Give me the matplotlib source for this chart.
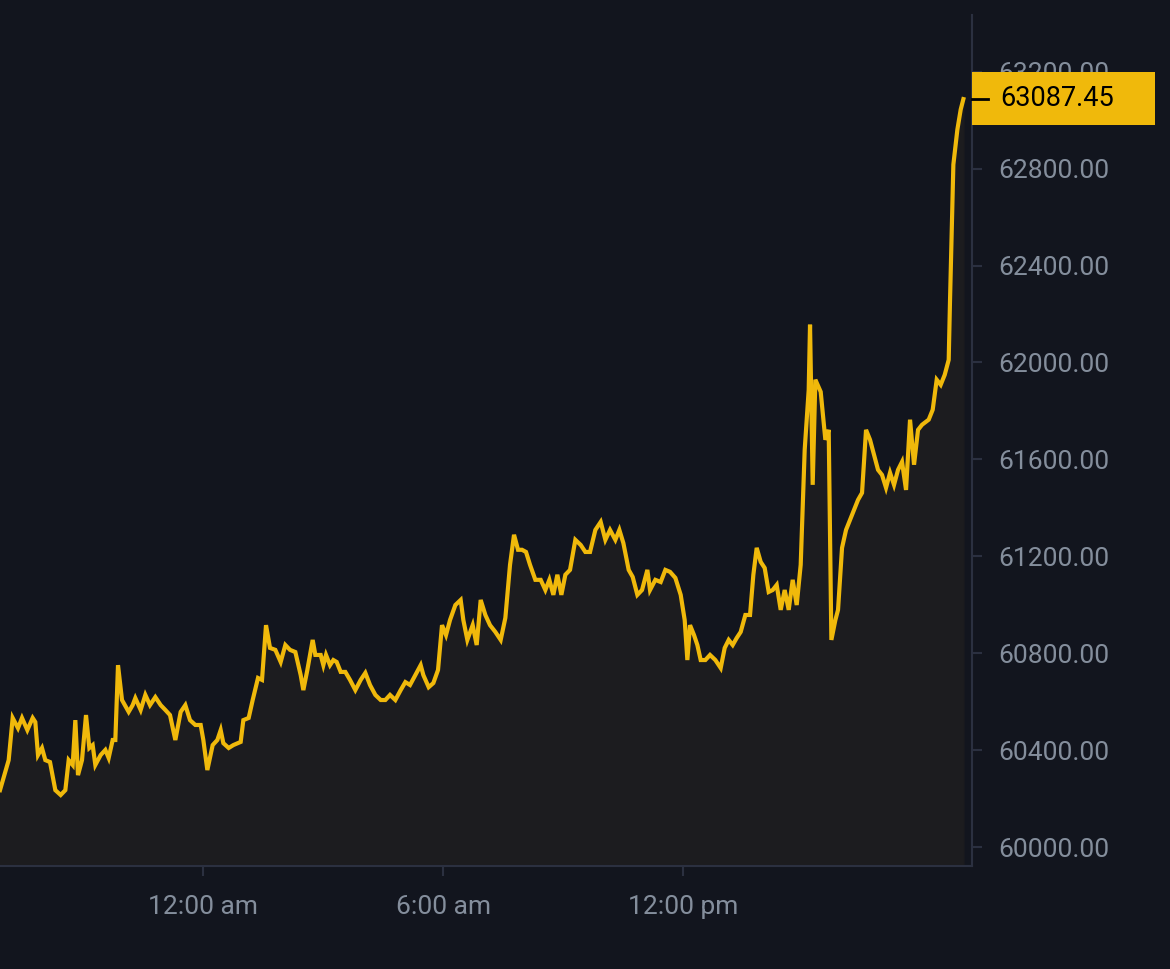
import matplotlib
matplotlib.use("Agg")
import matplotlib.pyplot as plt
from matplotlib.patches import Rectangle
import numpy as np

plt.rcParams['font.family'] = ['Roboto', 'DejaVu Sans']

# minutes relative to 12:00 am
t_min = [-305,-292,-286,-278,-272,-264,-256,-252,-248,-242,-237,-230,-222,-214,-207,-202,-196,-192,-188,-182,
 -176,-171,-166,-162,-154,-147,-142,-136,-132,-128,-122,-112,-106,-102,-94,-87,-80,-72,-64,-57,
 -50,-42,-34,-27,-20,-12,-4,0,6,14,21,26,30,38,45,56,60,68,74,82,
 88,94,100,108,116,123,130,138,146,150,156,164,168,176,180,184,190,195,200,206,
 213,220,228,236,243,250,258,266,273,280,288,296,303,310,318,326,330,338,345,352,
 358,364,370,378,386,390,396,404,410,416,423,430,438,446,453,460,466,472,478,484,
 490,498,506,513,519,525,531,537,543,550,558,566,573,580,588,596,603,610,618,624,
 630,638,644,651,658,666,670,678,686,693,700,708,716,722,726,730,736,741,746,753,
 760,768,776,782,788,794,800,806,813,820,825,830,836,842,848,854,860,866,872,878,
 884,890,896,902,908,910,914,918,926,933,938,942,948,952,958,964,970,976,982,988,
 994,1000,1006,1012,1018,1024,1030,1036,1042,1048,1054,1060,1066,1072,1078,1088,1094,1100,1106,1112,
 1118,1120,1125,1131,1136,1140]
price = [60235,60359,60533,60491,60533,60483,60533,60516,60380,60409,60359,60351,60235,60215,60235,60359,60339,60524,60297,60359,
 60545,60409,60421,60339,60380,60401,60368,60442,60442,60751,60607,60558,60586,60615,60566,60628,60586,60619,60586,60566,
 60545,60442,60558,60586,60524,60504,60504,60442,60318,60421,60442,60483,60429,60409,60421,60434,60524,60533,60607,60698,
 60690,60916,60822,60814,60764,60834,60814,60805,60710,60648,60731,60855,60793,60793,60751,60793,60751,60772,60764,60723,
 60723,60690,60648,60690,60719,60669,60628,60607,60607,60628,60607,60648,60681,60669,60710,60751,60710,60660,60677,60731,
 60916,60875,60937,60999,61020,60937,60855,60916,60834,61020,60958,60916,60888,60855,60946,61165,61289,61227,61227,61218,
 61165,61103,61103,61061,61103,61041,61124,61041,61124,61144,61268,61247,61218,61218,61309,61342,61268,61309,61268,61309,
 61255,61144,61115,61041,61061,61144,61061,61103,61094,61144,61136,61111,61041,60937,60772,60916,60875,60834,60772,60772,
 60793,60772,60739,60822,60855,60834,60863,60888,60958,60958,61124,61235,61177,61152,61053,61061,61082,60979,61061,60979,
 61103,60999,61165,61640,61887,62156,61495,61929,61879,61681,61722,60855,60937,60979,61235,61309,61350,61392,61433,61462,
 61722,61681,61619,61557,61536,61483,61545,61495,61557,61590,61474,61764,61578,61722,61743,61764,61805,61929,61908,61949,
 62011,62259,62817,62961,63044,63087]
last_price = 63087.45
yticks = [60000, 60400, 60800, 61200, 61600, 62000, 62400, 62800, 63200]
xticks = [0, 360, 720]
xlabels = ["12:00 am", "6:00 am", "12:00 pm"]

n = min(len(t_min), len(price))
t = np.array(t_min[:n]); p = np.array(price[:n])

bg = '#12151e'
W, H = 1170, 969
fig = plt.figure(figsize=(11.7, 9.69), dpi=100, facecolor=bg)
ax = fig.add_axes([0.0, 0.1063, 0.8308, 0.8782], facecolor=bg)
ax.fill_between(t, p, 59922, color='#1c1c1f', zorder=1)
ax.plot(t, p, color='#f0b90b', lw=3, zorder=3, solid_joinstyle='miter')
ax.set_xlim(-305, 1153)
ax.set_ylim(59922, 63434)
for s in ['top', 'left']:
    ax.spines[s].set_visible(False)
for s in ['right', 'bottom']:
    ax.spines[s].set_color('#2b3040'); ax.spines[s].set_linewidth(1.5)
ax.yaxis.tick_right()
ax.set_yticks(yticks)
ax.set_yticklabels([f"{v:.2f}" for v in yticks])
ax.set_xticks(xticks)
ax.set_xticklabels(xlabels)
ax.tick_params(axis='both', colors='#2b3040', labelcolor='#848e9c', labelsize=19, length=7, width=1.5)
ax.tick_params(axis='y', pad=12)
ax.tick_params(axis='x', pad=14)

# last-price tag
fig.canvas.draw()
ypix = ax.transData.transform((0, last_price))[1]
box_h = 53
fig.patches.append(Rectangle((972 / W, (ypix - box_h / 2) / H), (1155 - 972) / W, box_h / H,
                             transform=fig.transFigure, facecolor='#f0b90b', edgecolor='none', zorder=10))
fig.lines.append(plt.Line2D([972 / W, 988 / W], [ypix / H, ypix / H], transform=fig.transFigure,
                            color='#000000', lw=2, zorder=11))
fig.text(1000 / W, ypix / H, f"{last_price:.2f}", ha='left', va='center', fontsize=19.5, color='#000000', zorder=12)
fig.savefig('out.png', dpi=100, facecolor=bg)
